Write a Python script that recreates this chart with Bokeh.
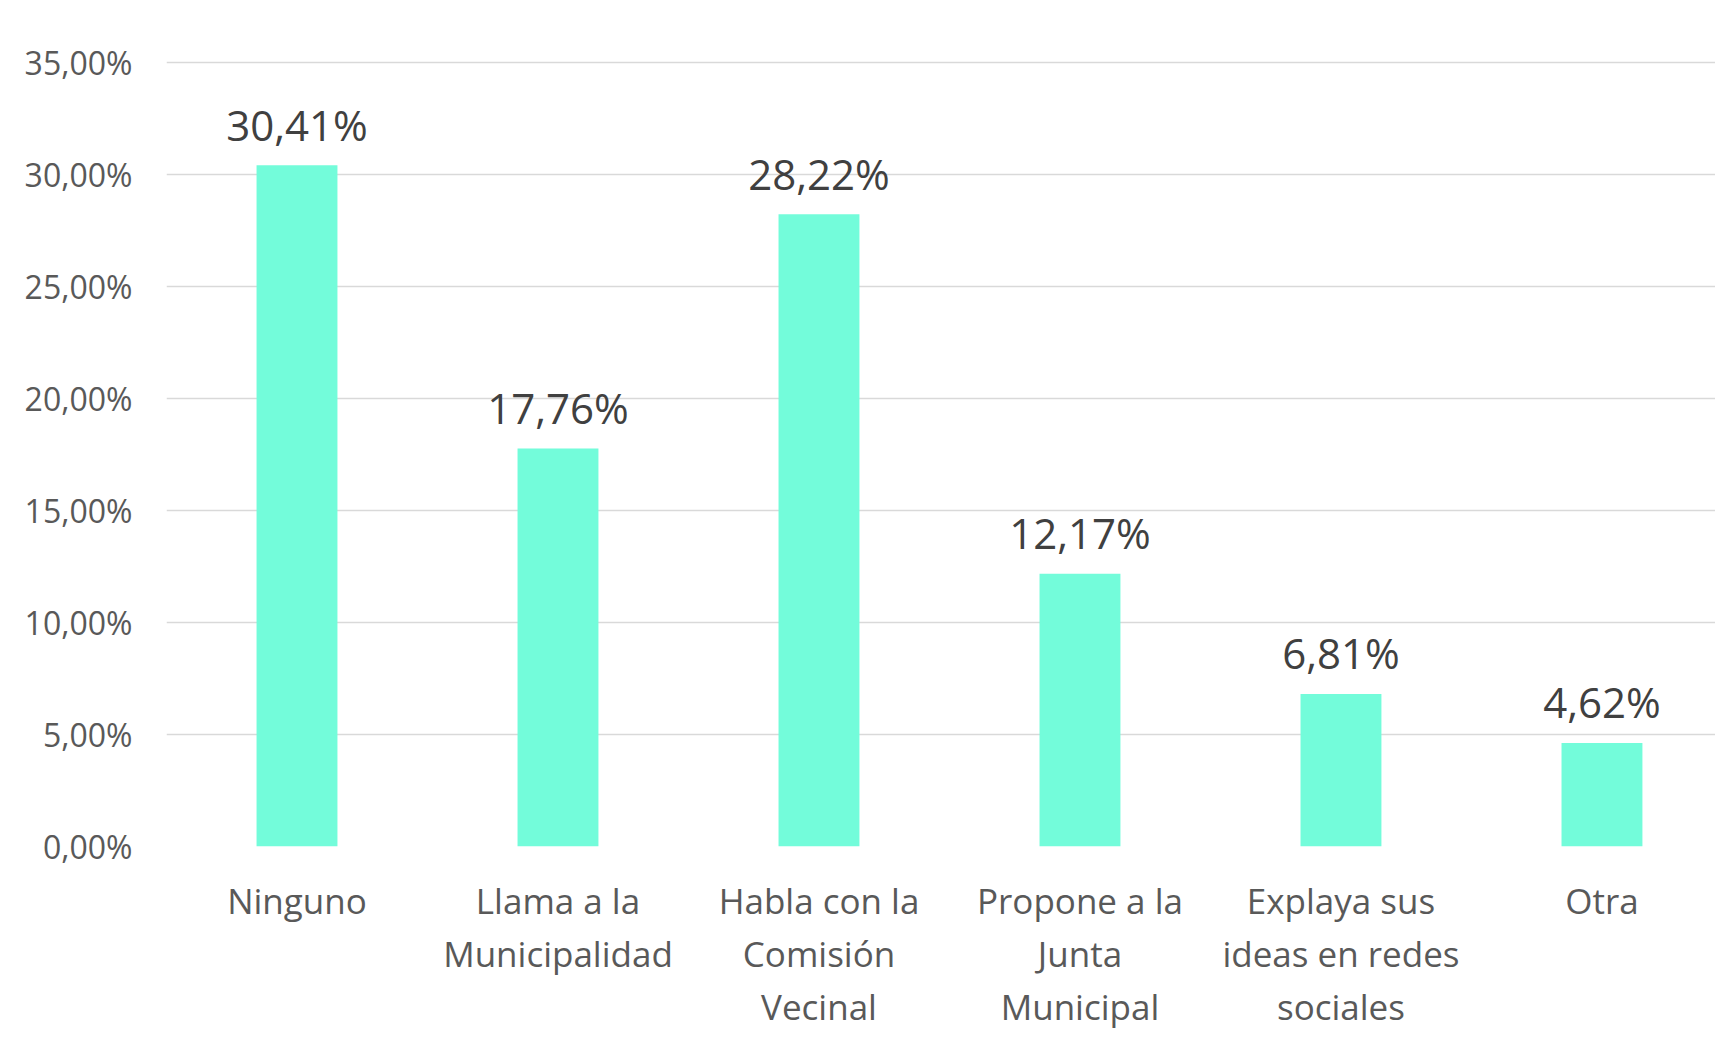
from bokeh.plotting import figure
from bokeh.models import ColumnDataSource, Range1d, FixedTicker
from bokeh.core.properties import value
from bokeh.embed import file_html
from bokeh.resources import INLINE

categories = ["Ninguno", "Llama a la\nMunicipalidad", "Habla con la\nComisión\nVecinal",
              "Propone a la\nJunta\nMunicipal", "Explaya sus\nideas en redes\nsociales", "Otra"]
values = [30.41, 17.76, 28.22, 12.17, 6.81, 4.62]
y_ticks = [0, 5, 10, 15, 20, 25, 30, 35]

FONT = "Open Sans"
xs = list(range(len(categories)))
labels = [f"{v:.2f}%".replace(".", ",") for v in values]
src = ColumnDataSource(dict(x=xs, top=values, label=labels))

p = figure(width=1715, height=1042, output_backend="svg", toolbar_location=None,
           x_range=Range1d(-0.5, 5.435), y_range=Range1d(0, 37),
           min_border_left=166, min_border_right=0, min_border_top=17, min_border_bottom=196)
p.outline_line_color = None
p.background_fill_color = "white"
p.border_fill_color = "white"

p.vbar(x="x", top="top", width=0.31, bottom=0, source=src,
       fill_color="#73FCDA", line_color=None)
p.text(x="x", y="top", text="label", source=src, text_align="center",
       text_baseline="alphabetic", y_offset=-41, text_font=value(FONT),
       text_font_size="42px", text_color="#404040")

# x axis
p.xaxis.ticker = FixedTicker(ticks=xs)
p.xaxis.major_label_overrides = {i: c for i, c in zip(xs, categories)}
p.xaxis.axis_line_color = None
p.xaxis.major_tick_line_color = None
p.xaxis.minor_tick_line_color = None
p.xaxis.major_label_text_font = FONT
p.xaxis.major_label_text_font_size = "35px"
p.xaxis.major_label_text_color = "#595959"
p.xaxis.major_label_text_line_height = 1.13
p.xaxis.major_label_standoff = 24
p.xgrid.grid_line_color = None

# y axis
p.yaxis.ticker = FixedTicker(ticks=y_ticks)
p.yaxis.major_label_overrides = {t: f"{t:.2f}%".replace(".", ",") for t in y_ticks}
p.yaxis.axis_line_color = None
p.yaxis.major_tick_line_color = None
p.yaxis.minor_tick_line_color = None
p.yaxis.major_label_text_font = FONT
p.yaxis.major_label_text_font_size = "32px"
p.yaxis.major_label_text_color = "#595959"
p.yaxis.major_label_standoff = 28
p.ygrid.ticker = FixedTicker(ticks=y_ticks)
p.ygrid.grid_line_color = "#D9D9D9"
p.ygrid.grid_line_width = 1.5

open("out.html", "w").write(file_html(p, INLINE))
